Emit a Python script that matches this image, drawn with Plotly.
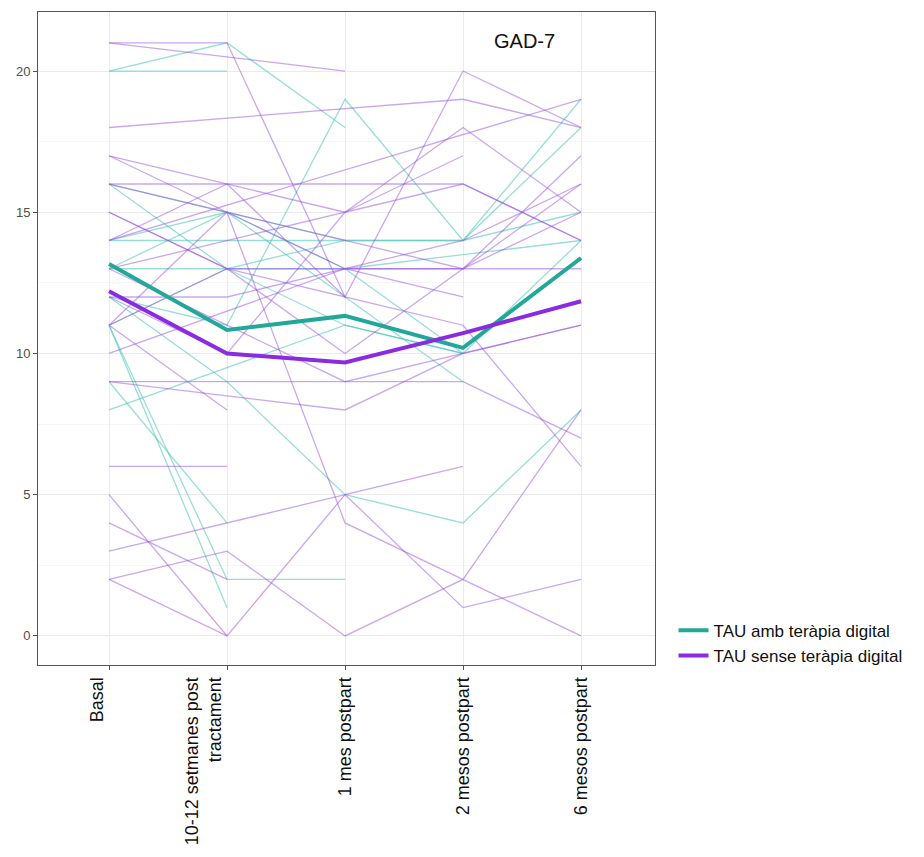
import plotly.graph_objects as go

# Time points (categories)
categories = ["Basal<br> ", "10-12 setmanes post<br>tractament<br> <br> ", "1 mes postpart",
              "2 mesos postpart", "6 mesos postpart"]
x_pos = [0, 1, 2, 3, 4]

# Group means (thick lines)
teal_mean = [13.17, 10.83, 11.33, 10.2, 13.38]
purple_mean = [12.2, 10.0, 9.68, 10.72, 11.85]

# Individual GAD-7 trajectories: TAU amb teràpia digital
teal_subjects = [
    [20, 21, 18, None, None],
    [20, 20, None, None, None],
    [16, 15, 12, 9, None],
    [14, 14, 14, 14, 15],
    [12, 11, 19, 14, 19],
    [13, 13, 13, 13.5, 14],
    [8, 9.5, 11, 10, 14],
    [11, 2, 2, None, None],
    [11, 1, None, None, None],
    [9, 4, None, None, None],
    [12, 9, 5, 4, 8],
    [14, 15, 13, 10, None],
    [16, 13, 14, 14, 18],
    [11, 13, 11, 10, None],
    [13, 15, 14, None, None],
]

# Individual GAD-7 trajectories: TAU sense teràpia digital
purple_subjects = [
    [21, 21, 12, None, None],
    [21, None, 20, None, None],
    [18, None, None, 19, 18],
    [17, 16, 15, 16, 14],
    [17, 15, 13, 12, None],
    [15, 13, 12, 20, 18],
    [13, 14, 15, 17, None],
    [14, None, None, None, 19],
    [9, 9, 9, 9, 7],
    [9, 8.5, 8, 10, 11],
    [10, 11.5, 13, 13, 13],
    [2, 3, 0, 2, 8],
    [16, 15, 4, 2, 0],
    [5, 0, 5, 6, None],
    [2, 0, None, None, None],
    [4, 2, None, None, None],
    [3, 4, 5, 1, 2],
    [6, 6, None, None, None],
    [16, 16, 16, 16, 14],
    [15, 13, 13, 13, 16],
    [14, 16, 12, 11, 6],
    [12, 10, 15, 18, 15],
    [11, 13, 10, 13, 17],
    [11, 8, None, None, None],
    [12, 12, 13, 14, 16],
    [11, 15, 14, 13, 15],
    [13, 11, 9, 10, 11],
]

teal_thin = "rgba(70,195,180,0.55)"
purple_thin = "rgba(150,80,225,0.5)"
teal_thick = "#22a898"
purple_thick = "#8a2be2"

fig = go.Figure()

for s in teal_subjects:
    fig.add_trace(go.Scatter(x=x_pos, y=s, mode="lines", connectgaps=True,
                             line=dict(color=teal_thin, width=1.3),
                             showlegend=False, hoverinfo="skip"))
for s in purple_subjects:
    fig.add_trace(go.Scatter(x=x_pos, y=s, mode="lines", connectgaps=True,
                             line=dict(color=purple_thin, width=1.3),
                             showlegend=False, hoverinfo="skip"))

fig.add_trace(go.Scatter(x=x_pos, y=teal_mean, mode="lines",
                         line=dict(color=teal_thick, width=4),
                         name="TAU amb teràpia digital"))
fig.add_trace(go.Scatter(x=x_pos, y=purple_mean, mode="lines",
                         line=dict(color=purple_thick, width=4),
                         name="TAU sense teràpia digital"))

fig.add_annotation(text="GAD-7", xref="paper", yref="paper",
                   x=0.789, y=0.955, xanchor="center", yanchor="middle",
                   showarrow=False,
                   font=dict(size=20, color="#111", family="Liberation Sans, Arial"))

fig.update_layout(
    width=924, height=857,
    margin=dict(l=38, r=269, t=12, b=192),
    paper_bgcolor="white", plot_bgcolor="white",
    font=dict(family="Liberation Sans, Arial, sans-serif"),
    legend=dict(x=1.03, y=0.08, xanchor="left", yanchor="top",
                font=dict(size=17, color="#111"),
                bgcolor="rgba(0,0,0,0)", itemwidth=30, tracegroupgap=0),
    xaxis=dict(
        range=[-0.602, 4.627], tickmode="array", tickvals=x_pos, ticktext=categories,
        tickangle=-90, tickfont=dict(size=18, color="#111"),
        showgrid=True, gridcolor="#ebebeb", gridwidth=1,
        showline=True, mirror=True, linecolor="#555", linewidth=1,
        ticks="outside", ticklen=4, tickcolor="#555", zeroline=False,
    ),
    yaxis=dict(
        range=[-1.03, 22.09], tickvals=[0, 5, 10, 15, 20],
        tickfont=dict(size=13, color="#4d4d4d"),
        showgrid=True, gridcolor="#ebebeb", gridwidth=1,
        minor=dict(showgrid=True, gridcolor="#f5f5f5", tickvals=[2.5, 7.5, 12.5, 17.5]),
        showline=True, mirror=True, linecolor="#555", linewidth=1,
        ticks="outside", ticklen=4, tickcolor="#555", zeroline=False,
    ),
)

fig.write_html("out.html")
